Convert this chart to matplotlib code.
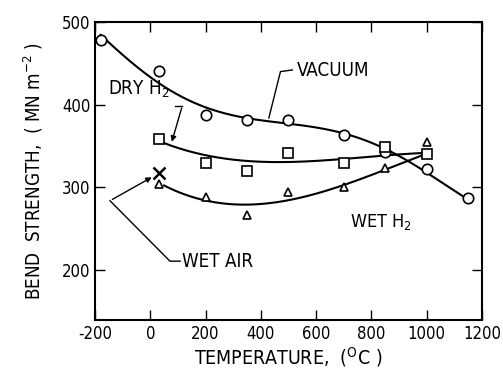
import numpy as np
import matplotlib
matplotlib.use('Agg')
import matplotlib.pyplot as plt

plt.rcParams['font.family'] = ['DejaVu Sans']
plt.rcParams['font.stretch'] = 'condensed'
plt.rcParams['mathtext.fontset'] = 'custom'
plt.rcParams['mathtext.rm'] = 'DejaVu Sans:stretch=condensed'
plt.rcParams['axes.unicode_minus'] = False

# ── DATA ────────────────────────────────────────────────────────────────────
vac_t = [-180, 30, 200, 350, 500, 700, 850, 1000, 1150]
vac_s = [478, 441, 388, 382, 381, 363, 343, 322, 287]

dry_t = [30, 200, 350, 500, 700, 850, 1000]
dry_s = [359, 330, 320, 342, 330, 349, 341]

wet_t = [30, 200, 350, 500, 700, 850, 1000]
wet_s = [304, 289, 267, 295, 300, 324, 355]

air_t = [30]
air_s = [318]

# hand-drawn trend curves (knots)
vac_curve_t = [-180, 0, 200, 350, 500, 700, 850, 1000, 1150]
vac_curve_s = [484, 435, 394, 384, 380, 364, 345, 320, 285]
dry_curve_t = [50, 200, 400, 600, 800, 1000]
dry_curve_s = [354, 338, 332, 332, 337, 342]
wet_curve_t = [50, 200, 350, 500, 700, 850, 1000]
wet_curve_s = [303, 283, 279, 287, 301, 322, 341]


def trend(t, s, deg):
    c = np.polyfit(t, s, deg)
    xx = np.linspace(min(t), max(t), 200)
    return xx, np.polyval(c, xx)


fig = plt.figure(figsize=(5.03, 3.72), dpi=100)
ax = fig.add_axes([0.189, 0.140, 0.769, 0.801])

for t, s, d in [(vac_curve_t, vac_curve_s, 5), (dry_curve_t, dry_curve_s, 3),
                (wet_curve_t, wet_curve_s, 3)]:
    xx, yy = trend(t, s, d)
    ax.plot(xx, yy, color='black', lw=1.5)

ax.plot(vac_t, vac_s, 'o', ms=7.5, mfc='white', mec='black', mew=1.2)
ax.plot(dry_t, dry_s, 's', ms=6.5, mfc='white', mec='black', mew=1.2)
ax.plot(wet_t, wet_s, '^', ms=5.5, mfc='white', mec='black', mew=1.2)
ax.plot(air_t, air_s, 'x', ms=9, mec='black', mew=1.8)

# annotations
ax.plot([429, 471, 514], [384, 440, 442], color='black', lw=1)
ax.text(529, 441, 'VACUUM', fontsize=13.5, va='center')

ax.text(-155, 418, r'DRY H$_2$', fontsize=13.5, va='center')
ax.plot([90, 116], [399, 399], color='black', lw=1)
ax.annotate('', xy=(75, 352), xytext=(116, 399),
            arrowprops=dict(arrowstyle='-|>', color='black', lw=1, mutation_scale=8))

ax.plot([108, 71, -146], [211, 211, 284], color='black', lw=1)
ax.annotate('', xy=(14, 314), xytext=(-146, 284),
            arrowprops=dict(arrowstyle='-|>', color='black', lw=1, mutation_scale=8))
ax.text(114, 211, 'WET AIR', fontsize=13.5, va='center')

ax.text(721, 258, r'WET H$_2$', fontsize=13, va='center')

ax.set_xlim(-190, 1200)
ax.set_ylim(140, 500)
ax.set_xticks(range(-200, 1201, 200))
ax.set_yticks([200, 300, 400, 500])
ax.tick_params(direction='in', top=True, right=True, length=7, width=1,
               labelsize=12)
for sp in ax.spines.values():
    sp.set_linewidth(1.5)

ax.set_xlabel(r'TEMPERATURE,  ($^{\mathrm{O}}$C )', fontsize=14, labelpad=2)
ax.set_ylabel(r'BEND  STRENGTH,  ( MN m$^{-2}$ )', fontsize=13.5, labelpad=12)

fig.savefig('out.png', dpi=100)
